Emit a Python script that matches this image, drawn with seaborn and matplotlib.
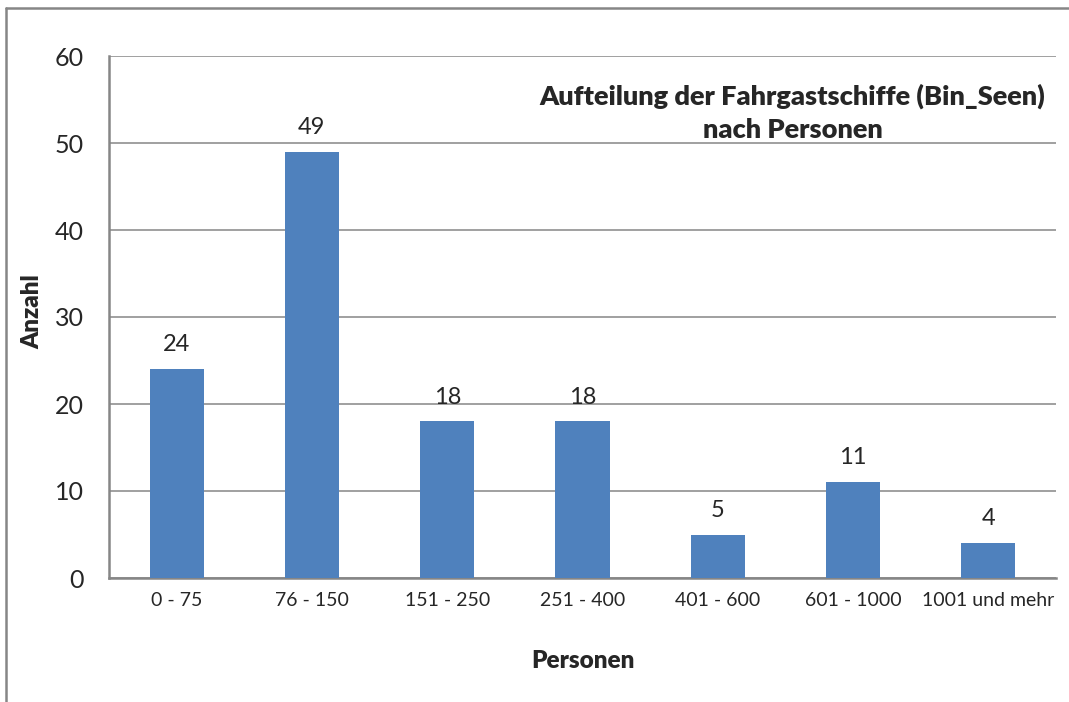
import matplotlib
matplotlib.use("Agg")
import matplotlib.pyplot as plt
from matplotlib.lines import Line2D
import seaborn as sns
import pandas as pd

categories = ["0 - 75", "76 - 150", "151 - 250", "251 - 400", "401 - 600", "601 - 1000", "1001 und mehr"]
counts = [24, 49, 18, 18, 5, 11, 4]
y_ticks = [0, 10, 20, 30, 40, 50, 60]
title = "Aufteilung der Fahrgastschiffe (Bin_Seen)\nnach Personen"
x_label = "Personen"
y_label = "Anzahl"

sns.set_theme(style="white")
plt.rcParams["font.family"] = ["Lato", "DejaVu Sans"]

bar_color = "#4F81BD"
line_gray = "#868686"

df = pd.DataFrame({"Personen": categories, "Anzahl": counts})

fig = plt.figure(figsize=(10.69, 7.02), dpi=100)
ax = fig.add_axes([109 / 1069, 1 - 578 / 702, (1056 - 109) / 1069, (578 - 56) / 702])

sns.barplot(data=df, x="Personen", y="Anzahl", color=bar_color, width=0.4,
            saturation=1, linewidth=0, ax=ax, zorder=3)

ax.set_ylim(0, 60)
ax.set_xlim(-0.5, len(categories) - 0.5)
ax.set_yticks(y_ticks)
ax.set_yticklabels([str(t) for t in y_ticks], fontsize=18)
ax.tick_params(axis="y", length=8, width=1.2, color=line_gray, direction="out", pad=10)
ax.tick_params(axis="x", length=0, labelsize=14, pad=10)
ax.yaxis.grid(True, color=line_gray, linewidth=1.1, zorder=0)
ax.set_axisbelow(True)

for side in ["top", "right"]:
    ax.spines[side].set_visible(False)
for side in ["left", "bottom"]:
    ax.spines[side].set_color(line_gray)
    ax.spines[side].set_linewidth(1.8)

for container in ax.containers:
    ax.bar_label(container, labels=[str(v) for v in counts], padding=10, fontsize=17)

ax.set_xlabel(x_label, fontsize=17.5, fontweight="heavy")
ax.set_ylabel(y_label, fontsize=17.5, fontweight="heavy")
ax.xaxis.set_label_coords(0.5, -(661 - 578) / 522, transform=ax.transAxes)
ax.yaxis.set_label_coords(-(109 - 32) / 947, (578 - 312) / 522, transform=ax.transAxes)
ax.xaxis.label.set_va("center")
ax.yaxis.label.set_va("center")

ax.text(0.722, 0.891, title, transform=ax.transAxes, ha="center", va="center",
        fontsize=19.5, fontweight="heavy", linespacing=1.45)

# outer frame around the chart area
fig.add_artist(Line2D([6 / 1069, 6 / 1069], [0, 1 - 7.5 / 702], color=line_gray, linewidth=1.8))
fig.add_artist(Line2D([6 / 1069, 1], [1 - 7.5 / 702, 1 - 7.5 / 702], color=line_gray, linewidth=1.8))

fig.savefig("out.png", dpi=100, facecolor="white")
